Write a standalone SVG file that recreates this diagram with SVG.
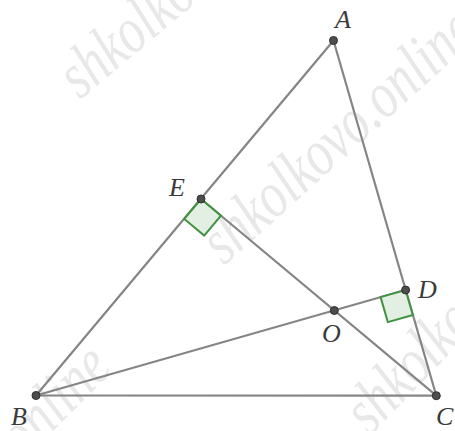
<svg xmlns="http://www.w3.org/2000/svg" width="455" height="431" viewBox="0 0 455 431">
<style>
.wm{font-family:"Liberation Serif",serif;font-style:italic;font-size:60px;fill:#e8e8e8;}
.seg{stroke:#858585;stroke-width:2.2;stroke-linecap:round;fill:none;}
.ra{fill:#e4efe4;stroke:#3f923f;stroke-width:2;stroke-linejoin:miter;}
.pt{fill:#4d4d4d;stroke:#2e2e2e;stroke-width:1;}
.lbl{font-family:"Liberation Serif",serif;font-style:italic;font-size:26px;fill:#3a3a3a;}
</style>
<rect width="455" height="431" fill="#ffffff"/>
<g id="watermarks">
<text class="wm" transform="translate(80,100) rotate(-40) scale(0.85,1.1)">shkolkovo.online</text>
<text class="wm" transform="translate(224,266) rotate(-42) scale(0.85,1.1)">shkolkovo.online</text>
<text class="wm" text-anchor="end" transform="translate(114,370) rotate(-45) scale(0.85,1.1)">shkolkovo.online</text>
<text class="wm" transform="translate(370,436) rotate(-46) scale(0.85,1.1)">shkolkovo.online</text>
</g>
<g id="connectors">
<line class="seg" x1="333.5" y1="40.5" x2="36" y2="395.5"/>
<line class="seg" x1="333.5" y1="40.5" x2="436.3" y2="395.7"/>
<line class="seg" x1="36" y1="395.5" x2="436.3" y2="395.7"/>
<line class="seg" x1="36" y1="395.5" x2="405.6" y2="290"/>
<line class="seg" x1="436.3" y1="395.7" x2="201" y2="199"/>
</g>
<g id="rightangles">
<polygon class="ra" points="201,199 184.3,218.9 204.2,235.6 220.9,215.7"/>
<polygon class="ra" points="405.6,290 380.6,297.1 387.8,322.1 412.8,315"/>
</g>
<g id="node-A"><circle class="pt" cx="333.5" cy="40.5" r="4"/><text class="lbl" x="335" y="28">A</text></g>
<g id="node-B"><circle class="pt" cx="36" cy="395.5" r="4"/><text class="lbl" x="11" y="425">B</text></g>
<g id="node-C"><circle class="pt" cx="436.3" cy="395.7" r="4"/><text class="lbl" x="436" y="425">C</text></g>
<g id="node-D"><circle class="pt" cx="405.6" cy="290" r="4"/><text class="lbl" x="418" y="298">D</text></g>
<g id="node-E"><circle class="pt" cx="201" cy="199" r="4"/><text class="lbl" x="169" y="196">E</text></g>
<g id="node-O"><circle class="pt" cx="334.3" cy="310.5" r="4"/><text class="lbl" x="322" y="342">O</text></g>
</svg>
